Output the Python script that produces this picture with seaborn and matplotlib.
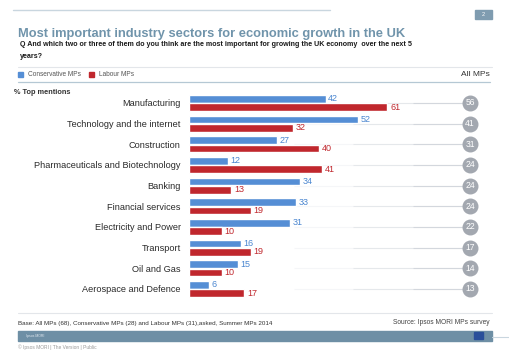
import numpy as np
import pandas as pd
import matplotlib
matplotlib.use('Agg')
import matplotlib.pyplot as plt
from matplotlib.patches import Rectangle
import seaborn as sns

# Dados do gráfico
categorias = ['Manufacturing', 'Technology and the internet', 'Construction',
              'Pharmaceuticals and Biotechnology', 'Banking', 'Financial services',
              'Electricity and Power', 'Transport', 'Oil and Gas', 'Aerospace and Defence']
conservadores = [42, 52, 27, 12, 34, 33, 31, 16, 15, 6]
trabalhistas = [61, 32, 40, 41, 13, 19, 10, 19, 10, 17]
todos_mps = [56, 41, 31, 24, 24, 24, 22, 17, 14, 13]
series = ['Conservative MPs', 'Labour MPs']

CORES = ['#558ed5', '#c0272d']
CORES_TEXTO = ['#4a86d0', '#c0272d']

df = pd.DataFrame({
    'Sector': categorias * 2,
    'Party': [series[0]] * len(categorias) + [series[1]] * len(categorias),
    'Value': conservadores + trabalhistas,
})

sns.set_style('white')
plt.rcParams['font.family'] = ['Liberation Sans', 'DejaVu Sans']

W, H = 510, 353
fig = plt.figure(figsize=(W / 100, H / 100), dpi=100)

# Eixo principal (posições em píxeis convertidas para fração da figura)
ax = fig.add_axes([189 / W, 1 - 299.3 / H, 299 / W, 206.7 / H])
sns.barplot(data=df, y='Sector', x='Value', hue='Party', order=categorias,
            hue_order=series, palette=CORES, width=0.8, gap=0.08,
            orient='h', ax=ax, legend=False, saturation=1)
ax.set_xlim(0, 92)
ax.set_ylim(len(categorias) - 0.5, -0.5)
ax.set_xlabel('')
ax.set_ylabel('')
ax.set_xticks([])
ax.tick_params(axis='y', length=0, pad=6, labelsize=6.6, labelcolor='#2a2a2a')
for s in ax.spines.values():
    s.set_visible(False)

for barras, cor in zip(ax.containers, CORES_TEXTO):
    ax.bar_label(barras, padding=2, fontsize=6.5, color=cor)

# Linhas de ligação até aos círculos (All MPs)
y_pos = np.arange(len(categorias))
for frac, alpha in [(0.35, 0.15), (0.55, 0.3), (0.75, 0.5)]:
    ax.hlines(y_pos, 92 * frac, 86.5, color='#c2c8d0', lw=0.8, alpha=alpha, zorder=0)
ax.scatter([86.5] * len(categorias), y_pos, s=110, color='#a3a8b0', zorder=3, clip_on=False)
for y, v in zip(y_pos, todos_mps):
    ax.text(86.5, y, str(v), ha='center', va='center', fontsize=6.2, color='white',
            zorder=4, clip_on=False)

# Título e textos
fig.text(18 / W, 1 - 34 / H, 'Most important industry sectors for economic growth in the UK',
         fontsize=9.3, fontweight='bold', color='#7094ab', va='center')
fig.text(20 / W, 1 - 45 / H,
         'Q And which two or three of them do you think are the most important for growing the UK economy  over the next 5',
         fontsize=5.15, fontweight='bold', color='#1a1a1a', va='center')
fig.text(20 / W, 1 - 56 / H, 'years?', fontsize=5.15, fontweight='bold', color='#1a1a1a', va='center')

# Linhas decorativas
fig.add_artist(plt.Line2D([13 / W, 330 / W], [1 - 10 / H, 1 - 10 / H], color='#c9d6df', lw=1))
fig.add_artist(plt.Line2D([18 / W, 492 / W], [1 - 67 / H, 1 - 67 / H], color='#e3e6ea', lw=0.8))
fig.add_artist(plt.Line2D([18 / W, 490 / W], [1 - 82 / H, 1 - 82 / H], color='#b5c8d4', lw=0.9))
fig.add_artist(plt.Line2D([18 / W, 492 / W], [1 - 313 / H, 1 - 313 / H], color='#e3e6ea', lw=0.8))

# Caixa do número da página
fig.add_artist(Rectangle((475 / W, 1 - 19 / H), 17 / W, 9 / H, color='#7f9cb0', transform=fig.transFigure))
fig.text(483.5 / W, 1 - 14.5 / H, '2', fontsize=4, color='white', ha='center', va='center')

# Legenda
fig.add_artist(Rectangle((18 / W, 1 - 77 / H), 5 / W, 5 / H, color=CORES[0], transform=fig.transFigure))
fig.text(28 / W, 1 - 74.5 / H, 'Conservative MPs', fontsize=4.7, color='#555555', va='center')
fig.add_artist(Rectangle((89 / W, 1 - 77 / H), 5 / W, 5 / H, color=CORES[1], transform=fig.transFigure))
fig.text(99 / W, 1 - 74.5 / H, 'Labour MPs', fontsize=4.7, color='#555555', va='center')
fig.text(490 / W, 1 - 75 / H, 'All MPs', fontsize=6, color='#333333', ha='right', va='center')
fig.text(14 / W, 1 - 93 / H, '% Top mentions', fontsize=5.3, fontweight='bold', color='#333333', va='center')

# Rodapé
fig.text(18 / W, 1 - 323 / H,
         'Base: All MPs (68), Conservative MPs (28) and Labour MPs (31),asked, Summer MPs 2014',
         fontsize=4.5, color='#333333', va='center')
fig.text(490 / W, 1 - 322 / H, 'Source: Ipsos MORI MPs survey', fontsize=4.8, color='#444444',
         ha='right', va='center')
fig.add_artist(Rectangle((18 / W, 1 - 341 / H), 474 / W, 10 / H, color='#6e8fa5', transform=fig.transFigure))
fig.add_artist(Rectangle((474 / W, 1 - 339 / H), 9 / W, 7 / H, color='#2a4f9a', transform=fig.transFigure))
fig.add_artist(plt.Line2D([492 / W, 510 / W], [1 - 337 / H, 1 - 337 / H], color='#c9d6df', lw=0.8))
fig.text(26 / W, 1 - 336 / H, 'Ipsos MORI', fontsize=2.5, color='#dfe7ee', va='center')
fig.text(18 / W, 1 - 347 / H, '© Ipsos MORI | The Version | Public', fontsize=3.5, color='#999999', va='center')

plt.savefig('out.png', dpi=100)
plt.close()
